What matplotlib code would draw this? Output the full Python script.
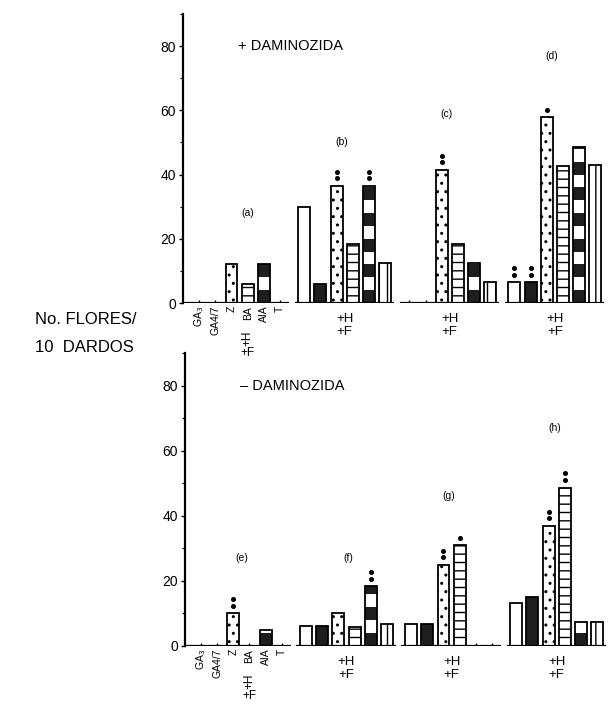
import numpy as np
import matplotlib
matplotlib.use('Agg')
import matplotlib.pyplot as plt

plt.rcParams['font.family'] = ['Liberation Sans', 'DejaVu Sans']
plt.rcParams['hatch.linewidth'] = 1.0

# ---------------- data ----------------
categories = ['GA$_3$', 'GA4/7', 'Z', 'BA', 'AIA', 'T']
top_groups = ['(a)', '(b)', '(c)', '(d)']
bot_groups = ['(e)', '(f)', '(g)', '(h)']

# + DAMINOZIDA (upper panel)
top_a = [0, 0, 12, 6, 12, 0]
top_b = [30, 6, 36.5, 18.5, 36.5, 12.5]
top_c = [0, 0, 41.5, 18.5, 12.5, 6.5]
top_d = [6.5, 6.5, 57.8, 42.6, 48.7, 43]
# significance (number of asterisks)
top_sig_a = [0, 0, 0, 0, 0, 0]
top_sig_b = [0, 0, 2, 0, 2, 0]
top_sig_c = [0, 0, 2, 0, 0, 0]
top_sig_d = [2, 2, 1, 0, 0, 0]

# - DAMINOZIDA (lower panel)
bot_e = [0, 0, 10, 0, 5, 0]
bot_f = [6.2, 6.2, 10.2, 5.7, 18.4, 6.8]
bot_g = [6.8, 6.8, 24.9, 31, 0, 0]
bot_h = [13.1, 15.2, 36.9, 48.6, 7.3, 7.3]
bot_sig_e = [0, 0, 2, 0, 0, 0]
bot_sig_f = [0, 0, 0, 0, 2, 0]
bot_sig_g = [0, 0, 2, 1, 0, 0]
bot_sig_h = [0, 0, 2, 2, 0, 0]

GROUP_STEP = 6.5
BAR_W = 0.74
AIA_SEG = 4.0


def draw_bar(ax, x, v, kind):
    if v <= 0:
        ax.vlines(x, 0, 0.9, color='black', lw=1.0, zorder=4)
        return
    common = dict(width=BAR_W, edgecolor='black', linewidth=1.3, zorder=3)
    if kind == 0:
        ax.bar(x, v, facecolor='white', **common)
    elif kind == 1:
        ax.bar(x, v, facecolor='#1e1e1e', **common)
    elif kind == 2:
        ax.bar(x, v, facecolor='white', hatch='..', **common)
    elif kind == 3:
        ax.bar(x, v, facecolor='white', hatch='--', **common)
    elif kind == 4:
        nseg = int(np.ceil(v / AIA_SEG))
        for k in range(nseg):
            b = k * AIA_SEG
            h = min(AIA_SEG, v - b)
            ax.bar(x, h, bottom=b, width=BAR_W,
                   facecolor='#1e1e1e' if k % 2 == 0 else 'white',
                   edgecolor='none', zorder=3)
        ax.bar(x, v, facecolor='none', **common)
    elif kind == 5:
        ax.bar(x, v, facecolor='white', hatch='||', **common)


def draw_panel(ax, groups, sigs, labels, label_pos, title):
    ax.set_facecolor('none')
    for g, (vals, sg) in enumerate(zip(groups, sigs)):
        x0 = g * GROUP_STEP
        xs = x0 + np.arange(len(vals))
        for i, (x, v) in enumerate(zip(xs, vals)):
            draw_bar(ax, x, v, i)
            for s in range(sg[i]):
                ax.plot(x, v + 2.3 + 2.1 * s, 'o', color='black', ms=2.6, zorder=5)
        left = x0 - 0.6 if g > 0 else -1.0
        ax.plot([left, x0 + len(vals) - 0.45], [0, 0], color='black', lw=1.6,
                zorder=4, solid_capstyle='butt')
        lx, ly = label_pos[g]
        ax.text(x0 + lx, ly, labels[g], ha='center', va='center', fontsize=7.5)
    ax.set_xlim(-1.0, 25.1)
    ax.set_ylim(0, 90)
    ax.set_yticks([0, 20, 40, 60, 80])
    ax.set_yticks([10, 30, 50, 70, 90], minor=True)
    ax.tick_params(axis='y', labelsize=10, length=3, width=1.0, pad=2)
    ax.tick_params(axis='y', which='minor', length=2, width=0.8)
    for s in ['top', 'right', 'bottom']:
        ax.spines[s].set_visible(False)
    ax.spines['left'].set_linewidth(1.6)
    ax.set_xticks(np.arange(len(categories)))
    ax.set_xticklabels(categories, rotation=90, fontsize=7.5)
    ax.tick_params(axis='x', length=0, pad=2)
    ax.text(2.4, 80, title, ha='left', va='center', fontsize=10.5)
    # +H / +F labels
    for g in range(1, len(groups)):
        xc = g * GROUP_STEP + 2.5
        ax.text(xc, -3.2, '+H', ha='center', va='top', fontsize=9.5, clip_on=False)
        ax.text(xc, -7.2, '+F', ha='center', va='top', fontsize=9.5, clip_on=False)
    ax.text(3.0, -8.6, '+H', ha='center', va='top', fontsize=8.5, rotation=90,
            clip_on=False)
    ax.text(3.0, -13.6, '+F', ha='center', va='top', fontsize=8.5, clip_on=False)


fig = plt.figure(figsize=(6.08, 7.04), dpi=100)
ax1 = fig.add_axes([0.301, 0.5696, 0.694, 0.4106])
ax2 = fig.add_axes([0.304, 0.0824, 0.694, 0.4162])

draw_panel(ax1, [top_a, top_b, top_c, top_d],
           [top_sig_a, top_sig_b, top_sig_c, top_sig_d],
           top_groups, [(3.0, 28), (2.3, 50), (2.3, 59), (2.3, 77)],
           '+ DAMINOZIDA')
draw_panel(ax2, [bot_e, bot_f, bot_g, bot_h],
           [bot_sig_e, bot_sig_f, bot_sig_g, bot_sig_h],
           bot_groups, [(2.5, 27), (2.6, 27), (2.3, 46), (2.4, 67)],
           '\u2013 DAMINOZIDA')

fig.text(35 / 608, 1 - 320 / 704, 'No. FLORES/', ha='left', va='center', fontsize=12)
fig.text(35 / 608, 1 - 347 / 704, '10  DARDOS', ha='left', va='center', fontsize=12)

fig.savefig('out.png', dpi=100)
